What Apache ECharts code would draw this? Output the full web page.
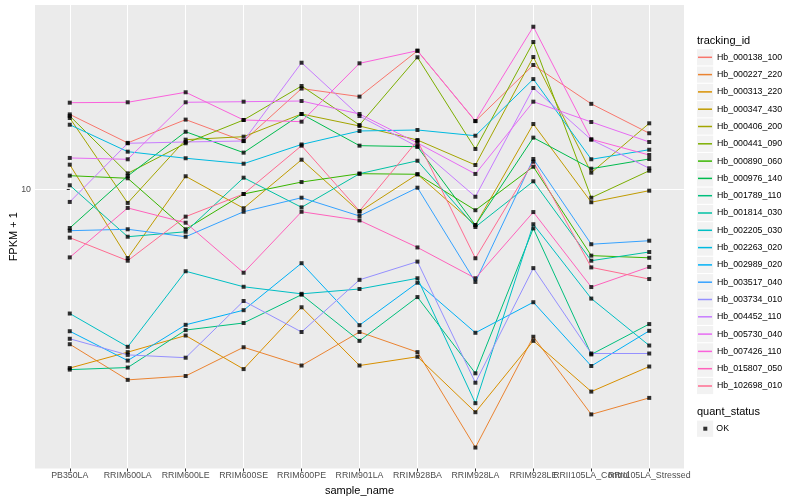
<!DOCTYPE html>
<html>
<head>
<meta charset="utf-8">
<script src="https://cdn.jsdelivr.net/npm/echarts@6/dist/echarts.min.js"></script>
<style>html,body{margin:0;padding:0;background:#fff}#chart{width:800px;height:500px}</style>
</head>
<body>
<div id="chart"></div>
<script>
// ---- data ----
const categories = ['PB350LA','RRIM600LA','RRIM600LE','RRIM600SE','RRIM600PE','RRIM901LA','RRIM928BA','RRIM928LA','RRIM928LE','RRII105LA_Control','RRII105LA_Stressed'];
const trackingIds = ['Hb_000138_100','Hb_000227_220','Hb_000313_220','Hb_000347_430','Hb_000406_200','Hb_000441_090','Hb_000890_060','Hb_000976_140','Hb_001789_110','Hb_001814_030','Hb_002205_030','Hb_002263_020','Hb_002989_020','Hb_003517_040','Hb_003734_010','Hb_004452_110','Hb_005730_040','Hb_007426_110','Hb_015807_050','Hb_102698_010'];
const hueColors = ['#F8766D','#EA8331','#D89000','#C09B00','#A3A500','#7CAE00','#39B600','#00BB4E','#00BF7D','#00C1A3','#00BFC4','#00BAE0','#00B0F6','#35A2FF','#9590FF','#C77CFF','#E76BF3','#FA62DB','#FF62BC','#FF6C91'];
const yTickValues = [10];

const Hb_000138_100 = [17.8, 14.3, 17.1, 14.5, 21.7, 20.4, 29.0, 16.9, 26.0, 19.3, 15.4];
const Hb_000227_220 = [3.05, 2.32, 2.39, 2.98, 2.59, 3.35, 2.87, 1.38, 3.23, 1.78, 2.02];
const Hb_000313_220 = [2.54, 2.87, 3.26, 2.52, 4.05, 2.59, 2.77, 1.81, 3.13, 2.12, 2.57];
const Hb_000347_430 = [12.1, 5.91, 11.07, 8.66, 12.57, 8.43, 11.24, 7.61, 16.53, 9.07, 9.91];
const Hb_000406_200 = [17.31, 9.02, 14.66, 15.0, 17.85, 16.28, 14.62, 12.07, 27.65, 11.38, 16.62];
const Hb_000441_090 = [17.58, 11.32, 14.26, 17.05, 22.13, 16.41, 27.59, 13.65, 31.02, 9.39, 11.55];
const Hb_000890_060 = [11.12, 10.9, 7.37, 9.66, 10.59, 11.29, 11.24, 8.53, 11.91, 6.02, 5.92];
const Hb_000976_140 = [7.44, 11.09, 15.58, 13.27, 17.85, 14.0, 13.89, 7.61, 14.89, 11.73, 12.64];
const Hb_001789_110 = [2.51, 2.55, 3.40, 3.59, 4.46, 3.13, 4.38, 2.44, 7.42, 2.82, 3.56];
const Hb_001814_030 = [10.33, 6.96, 7.23, 10.95, 8.72, 11.29, 12.47, 7.50, 10.65, 5.79, 6.19];
const Hb_002205_030 = [3.86, 2.99, 5.34, 4.74, 4.49, 4.66, 5.06, 1.94, 7.66, 4.33, 3.02];
const Hb_002263_020 = [16.44, 13.37, 12.71, 12.19, 14.13, 15.67, 15.79, 15.11, 23.34, 12.61, 13.57];
const Hb_002989_020 = [3.37, 2.69, 3.54, 3.96, 5.68, 3.53, 4.89, 3.33, 4.21, 2.58, 3.38];
const Hb_003517_040 = [7.29, 7.37, 6.96, 8.43, 9.39, 8.16, 10.14, 4.92, 12.64, 6.57, 6.75];
const Hb_003734_010 = [3.18, 2.81, 2.75, 4.25, 3.35, 5.0, 5.75, 2.27, 5.47, 2.84, 2.84];
const Hb_004452_110 = [9.09, 14.26, 14.4, 14.51, 26.46, 17.58, 13.89, 9.46, 21.79, 14.66, 11.77];
const Hb_005730_040 = [12.74, 12.61, 19.53, 19.62, 19.72, 17.85, 14.29, 11.27, 19.62, 16.79, 14.4];
const Hb_007426_110 = [19.47, 19.53, 21.09, 17.05, 16.83, 26.34, 29.02, 16.92, 34.88, 14.7, 13.03];
const Hb_015807_050 = [5.94, 8.68, 7.75, 5.28, 8.43, 7.89, 6.41, 5.06, 8.41, 4.73, 5.52];
const Hb_102698_010 = [6.91, 5.79, 8.12, 9.66, 14.0, 8.48, 14.55, 5.90, 12.38, 5.50, 5.03];

const seriesValues = [Hb_000138_100, Hb_000227_220, Hb_000313_220, Hb_000347_430, Hb_000406_200, Hb_000441_090, Hb_000890_060, Hb_000976_140, Hb_001789_110, Hb_001814_030, Hb_002205_030, Hb_002263_020, Hb_002989_020, Hb_003517_040, Hb_003734_010, Hb_004452_110, Hb_005730_040, Hb_007426_110, Hb_015807_050, Hb_102698_010];

// ---- chart ----
const FONT = 'Liberation Sans, Arial, Helvetica, sans-serif';
const chart = echarts.init(document.getElementById('chart'), null, {renderer: 'canvas'});
const catIdx = categories.map((c, i) => i);
const labelGroups = [catIdx.slice(0, 9), [9], [10]];

const lineSeries = seriesValues.map((vals, k) => ({
  type: 'line',
  name: trackingIds[k],
  data: vals.map((v, i) => [i, v]),
  showSymbol: false,
  lineStyle: {color: hueColors[k], width: 1},
  itemStyle: {color: hueColors[k]},
  emphasis: {disabled: true},
  animation: false
}));

const pointData = [];
seriesValues.forEach(vals => vals.forEach((v, i) => pointData.push([i, v])));

const keyBoxes = trackingIds.map((n, k) => ({
  type: 'rect', silent: true, z: 0,
  shape: {x: 697, y: 57.3 + 17.3 * k - 8.1, width: 16.2, height: 16.2},
  style: {fill: '#F2F2F2'}
}));
keyBoxes.push({type: 'rect', silent: true, z: 0, shape: {x: 697, y: 428.7 - 8.1, width: 16.2, height: 16.2}, style: {fill: '#F2F2F2'}});

const xLabelStyle = {formatter: v => categories[Math.round(v)], fontSize: 8.8, color: '#4D4D4D', margin: 3, fontFamily: FONT, hideOverlap: false};

const xAxes = labelGroups.map((grp, g) => {
  const ax = {
    type: 'value', min: -0.6, max: 10.6, position: 'bottom', offset: 0,
    axisLine: {show: false}, axisTick: {show: false}, splitLine: {show: false},
    axisLabel: Object.assign({customValues: grp}, xLabelStyle)
  };
  if (g === 0) {
    Object.assign(ax, {
      name: 'sample_name', nameLocation: 'middle', nameGap: 10,
      nameTextStyle: {fontSize: 11, color: '#000', fontFamily: FONT},
      axisTick: {show: true, customValues: catIdx, length: 3, lineStyle: {color: '#333333', width: 1}},
      splitLine: {show: true, lineStyle: {color: '#FFFFFF', width: 1}}
    });
  }
  return ax;
});

const option = {
  animation: false,
  textStyle: {fontFamily: FONT},
  title: [
    {text: 'tracking_id', left: 697, top: 34, padding: 0, textStyle: {fontSize: 11, fontWeight: 'normal', color: '#000', lineHeight: 13, fontFamily: FONT}},
    {text: 'quant_status', left: 697, top: 405, padding: 0, textStyle: {fontSize: 11, fontWeight: 'normal', color: '#000', lineHeight: 13, fontFamily: FONT}}
  ],
  legend: [
    {
      orient: 'vertical', left: 698, top: 52.3, padding: 0, itemGap: 7.3,
      itemWidth: 14, itemHeight: 1.5, icon: 'rect', selectedMode: false,
      textStyle: {fontSize: 8.8, color: '#000', lineHeight: 10, fontFamily: FONT},
      data: trackingIds.map((n, k) => ({name: n, itemStyle: {color: hueColors[k]}}))
    },
    {
      orient: 'vertical', left: 703.3, top: 423.7, padding: 0,
      itemWidth: 4, itemHeight: 4, icon: 'rect', selectedMode: false,
      textStyle: {fontSize: 8.8, color: '#000', lineHeight: 10, fontFamily: FONT, padding: [0, 0, 0, 4]},
      data: [{name: 'OK', itemStyle: {color: '#000'}}]
    }
  ],
  graphic: keyBoxes,
  grid: {left: 35, right: 116, top: 5, bottom: 31.5, show: true, backgroundColor: '#EBEBEB', borderWidth: 0, containLabel: false, outerBoundsMode: 'none'},
  xAxis: xAxes,
  yAxis: {
    type: 'log', logBase: 10, min: 1.175, max: 41.21,
    name: 'FPKM + 1', nameLocation: 'middle', nameGap: 16, nameRotate: 90, nameMoveOverlap: false,
    nameTextStyle: {fontSize: 11, color: '#000', fontFamily: FONT},
    axisLine: {show: false},
    axisTick: {show: true, customValues: yTickValues, length: 3, lineStyle: {color: '#333333', width: 1}},
    axisLabel: {customValues: yTickValues, fontSize: 8.8, color: '#4D4D4D', margin: 4, fontFamily: FONT},
    splitLine: {show: true, lineStyle: {color: '#FFFFFF', width: 1}}
  },
  series: lineSeries.concat([{
    type: 'scatter', name: 'OK', data: pointData,
    symbol: 'rect', symbolSize: 4,
    itemStyle: {color: '#000'}, z: 3, silent: true, animation: false
  }])
};
chart.setOption(option);
</script>
</body>
</html>
